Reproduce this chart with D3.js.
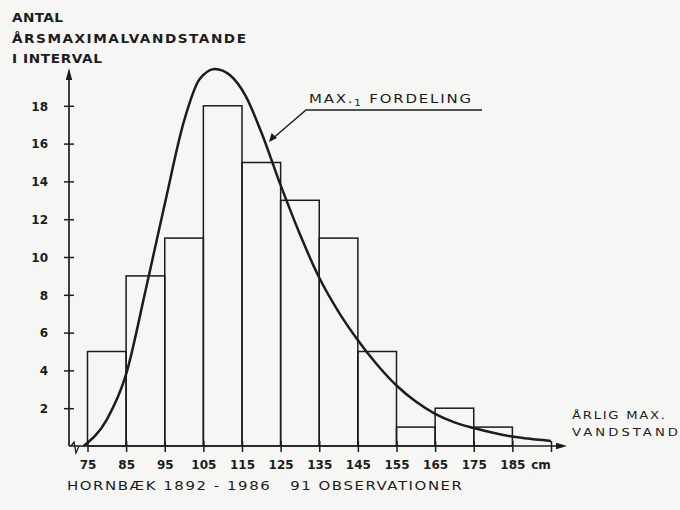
<!DOCTYPE html>
<html>
<head>
<meta charset="utf-8">
<script src="https://cdn.jsdelivr.net/npm/d3@7"></script>
<style>
  html, body { margin: 0; padding: 0; background: #f6f6f4; }
  svg { display: block; }
  text { font-family: "DejaVu Sans", sans-serif; fill: #1c1c1c; }
</style>
</head>
<body>
<svg id="chart" width="680" height="510"></svg>
<script>
// Histogram of annual maximum water levels, Hornbæk 1892-1986
const binStarts = [75, 85, 95, 105, 115, 125, 135, 145, 155, 165, 175];
const binCounts = [5, 9, 11, 18, 15, 13, 11, 5, 1, 2, 1];
const binWidth = 10;

// fitted Max-1 (Gumbel) distribution curve, scaled to counts per interval
const curveCm = [74, 80, 85, 90, 95, 100, 104, 108, 112, 116, 120, 125, 130, 135, 140, 145, 150, 155, 160, 165, 170, 175, 180, 185, 190, 195];
const curveVal = [0, 1.4, 3.8, 8.2, 12.8, 17.2, 19.4, 19.95, 19.6, 18.5, 16.6, 13.8, 11.2, 8.9, 7.1, 5.6, 4.3, 3.2, 2.35, 1.7, 1.25, 0.95, 0.7, 0.5, 0.37, 0.27];

const xTicks = [75, 85, 95, 105, 115, 125, 135, 145, 155, 165, 175, 185];
const yTicks = [2, 4, 6, 8, 10, 12, 14, 16, 18];

const ink = "#1c1c1c";
const svg = d3.select("#chart");

const x = d3.scaleLinear().domain([75, 195]).range([87.5, 551]);
const y = d3.scaleLinear().domain([0, 18]).range([446, 105.8]);
const x0 = 69, y0 = y(0);

// bars
svg.append("g").selectAll("rect")
  .data(binStarts.map((s, i) => ({ s, c: binCounts[i] })))
  .join("rect")
  .attr("x", d => x(d.s))
  .attr("y", d => y(d.c))
  .attr("width", d => x(d.s + binWidth) - x(d.s))
  .attr("height", d => y(0) - y(d.c))
  .attr("fill", "none")
  .attr("stroke", ink)
  .attr("stroke-width", 1.5);

// x axis line with arrow
svg.append("line").attr("x1", x0).attr("x2", 560).attr("y1", y0).attr("y2", y0)
  .attr("stroke", ink).attr("stroke-width", 1.7);
svg.append("path").attr("d", `M567,${y0} L556,${y0 - 3.2} L556,${y0 + 3.2} Z`).attr("fill", ink);

// y axis line with arrow
svg.append("line").attr("x1", x0).attr("x2", x0).attr("y1", y0).attr("y2", 78)
  .attr("stroke", ink).attr("stroke-width", 1.7);
svg.append("path").attr("d", `M${x0},68 L${x0 - 3.2},80 L${x0 + 3.2},80 Z`).attr("fill", ink);

// axis break mark near the origin
svg.append("path")
  .attr("d", `M${x0 + 2},${y0} L${x0 + 5},${y0 - 4} L${x0 + 7},${y0 + 7} L${x0 + 10},${y0}`)
  .attr("fill", "none").attr("stroke", ink).attr("stroke-width", 1.3);

const tickFont = sel => sel
  .style("font-size", "12px").style("font-weight", "bold")
  .style("font-family", "DejaVu Sans, sans-serif").attr("fill", ink);

// x ticks and labels
const xAxis = d3.axisBottom(x).tickValues(xTicks.concat([195])).tickSize(6).tickFormat(d => d === 195 ? "" : d);
const gx = svg.append("g").attr("transform", `translate(0,${y0})`).call(xAxis);
gx.select(".domain").remove();
gx.selectAll(".tick line").attr("stroke", ink).attr("stroke-width", 1.5).attr("y1", -5);
gx.selectAll(".tick text").attr("dy", 0).attr("y", 23).call(tickFont);
svg.append("text").attr("x", 541).attr("y", y0 + 23).attr("text-anchor", "middle").call(tickFont).text("cm");

// y ticks and labels
const yAxis = d3.axisLeft(y).tickValues(yTicks).tickSize(5).tickFormat(d3.format("d"));
const gy = svg.append("g").attr("transform", `translate(${x0},0)`).call(yAxis);
gy.select(".domain").remove();
gy.selectAll(".tick line").attr("stroke", ink).attr("stroke-width", 1.5).attr("x2", 5).attr("x1", -5);
gy.selectAll(".tick text").attr("x", -21).attr("dy", "0.36em").call(tickFont);

// distribution curve
const line = d3.line().x(d => x(d[0])).y(d => y(d[1])).curve(d3.curveMonotoneX);
svg.append("path")
  .datum(curveCm.map((c, i) => [c, curveVal[i]]))
  .attr("d", line)
  .attr("fill", "none").attr("stroke", ink).attr("stroke-width", 2.5);

// horizontally extended lettering: text placed in a stretched group
function wideText(px, py, str, size, width, stretch, weight) {
  const g = svg.append("g").attr("transform", `translate(${px},${py}) scale(${stretch},1)`);
  return g.append("text")
    .attr("textLength", width / stretch).attr("lengthAdjust", "spacing")
    .style("font-size", size + "px").style("font-weight", weight || "normal")
    .text(str);
}

// leader for the curve label
svg.append("path").attr("d", "M482,110 L306,110 L271,140")
  .attr("fill", "none").attr("stroke", ink).attr("stroke-width", 1.4);
svg.append("path").attr("d", "M269,142 L271.5,133 L277,138 Z").attr("fill", ink);
const labG = svg.append("g").attr("transform", "translate(309,103) scale(1.15,1)");
const lab = labG.append("text")
  .attr("textLength", 162 / 1.15).attr("lengthAdjust", "spacing")
  .style("font-size", "13px");
lab.append("tspan").text("MAX.");
lab.append("tspan").attr("dy", 3).style("font-size", "9px").text("1");
lab.append("tspan").attr("dy", -3).text(" FORDELING");

// axis titles
wideText(12, 22, "ANTAL", 13, 51, 1.05, "bold");
wideText(12, 43, "ÅRSMAXIMALVANDSTANDE", 13, 234, 1.05, "bold");
wideText(12, 63, "I INTERVAL", 13, 90, 1.05, "bold");

wideText(572, 419, "ÅRLIG MAX.", 11, 93, 1.2);
wideText(572, 436, "VANDSTAND", 11, 106, 1.2);

wideText(67, 490, "HORNBÆK 1892 - 1986   91 OBSERVATIONER", 11.5, 395, 1.3)
  .attr("xml:space", "preserve");
</script>
</body>
</html>
